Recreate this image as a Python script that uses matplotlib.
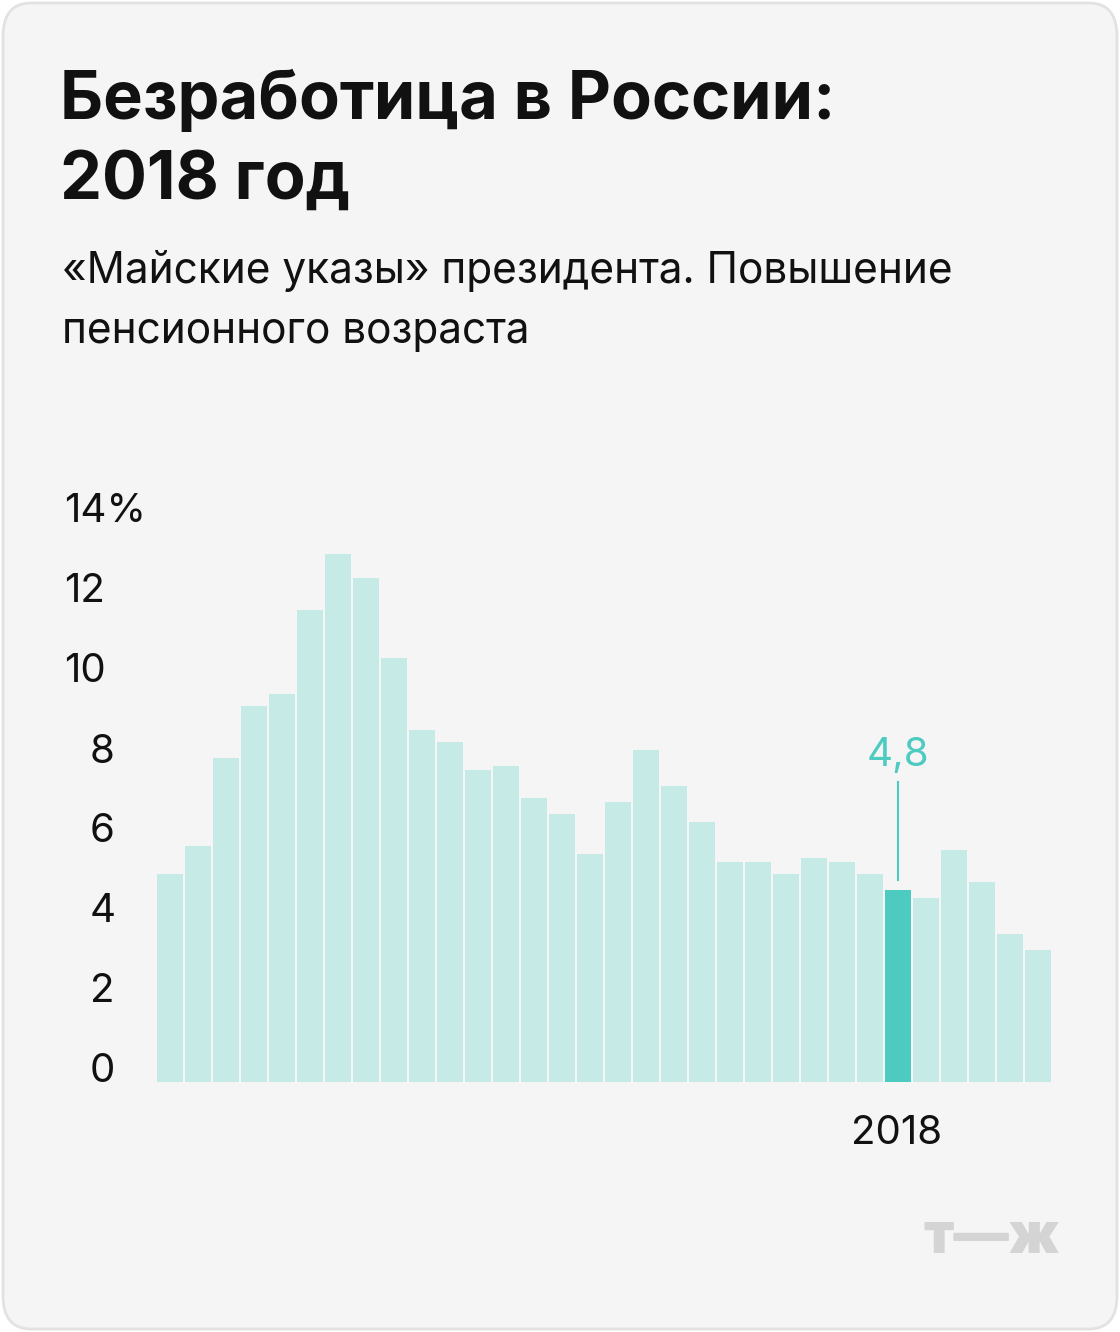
import matplotlib
matplotlib.use("Agg")
import matplotlib.pyplot as plt
from matplotlib.patches import FancyBboxPatch

years = list(range(1992, 2024))
unemployment = [5.2, 5.9, 8.1, 9.4, 9.7, 11.8, 13.2, 12.6, 10.6, 8.8, 8.5, 7.8, 7.9, 7.1,
                6.7, 5.7, 7.0, 8.3, 7.4, 6.5, 5.5, 5.5, 5.2, 5.6, 5.5, 5.2, 4.8, 4.6,
                5.8, 5.0, 3.7, 3.3]
highlight_year = 2018
yticks = [0, 2, 4, 6, 8, 10, 12, 14]

W, H = 1120, 1332
fig = plt.figure(figsize=(W / 100, H / 100), dpi=100)
fig.patch.set_facecolor("white")
card = FancyBboxPatch((3 / W, 3 / H), 1 - 6 / W, 1 - 6 / H,
                      boxstyle="round,pad=0,rounding_size=0.025",
                      transform=fig.transFigure, facecolor="#f5f5f5",
                      edgecolor="#e2e2e2", linewidth=2, zorder=-10)
fig.patches.append(card)

def fx(px): return px / W
def fy(py): return 1 - py / H

fig.text(fx(60), fy(101), "Безработица в России:", fontsize=48, fontweight="bold",
         family="Inter", va="center", ha="left", color="#111111")
fig.text(fx(60), fy(181), "2018 год", fontsize=48, fontweight="bold",
         family="Inter", va="center", ha="left", color="#111111")
fig.text(fx(62), fy(271), "«Майские указы» президента. Повышение", fontsize=30.5,
         family="Inter", va="center", ha="left", color="#111111")
fig.text(fx(62), fy(331), "пенсионного возраста", fontsize=30.5,
         family="Inter", va="center", ha="left", color="#111111")

ax = fig.add_axes([fx(157), fy(1082), fx(1051) - fx(157), (1082 - 522) / H])
ax.set_zorder(5)
ax.set_facecolor("none")
colors = ["#4ecbc1" if y == highlight_year else "#c6ebe7" for y in years]
ax.bar(range(len(years)), unemployment, width=0.94, color=colors, align="edge")
ax.set_xlim(0, len(years) - 0.06)
ax.set_ylim(0, 14)
for s in ax.spines.values():
    s.set_visible(False)
ax.set_xticks([])
ax.set_yticks([])

for t in yticks:
    label = f"{t}%" if t == 14 else str(t)
    fig.text(fx(64) if t >= 10 else fx(90), fy(1072 - t * 40), label, fontsize=29,
             family="Inter", va="center", ha="left", color="#111111")

i = years.index(highlight_year)
val = unemployment[i]
ax.plot([i + 0.47, i + 0.47], [val + 0.25, 7.5], color="#4ecbc1", lw=1.5)
ax.text(i + 0.47, 7.7, f"{val:.1f}".replace(".", ","), color="#4ecbc1", fontsize=29,
        family="Inter", ha="center", va="bottom")
fig.text(fx(897), fy(1134), str(highlight_year), fontsize=29, family="Inter",
         ha="center", va="center", color="#111111")

fig.text(fx(1060), fy(1238), "т—ж", fontsize=40, fontweight="black", family="Inter",
         ha="right", va="center", color="#d4d4d4")

fig.savefig("out.png", dpi=100, facecolor="white")
